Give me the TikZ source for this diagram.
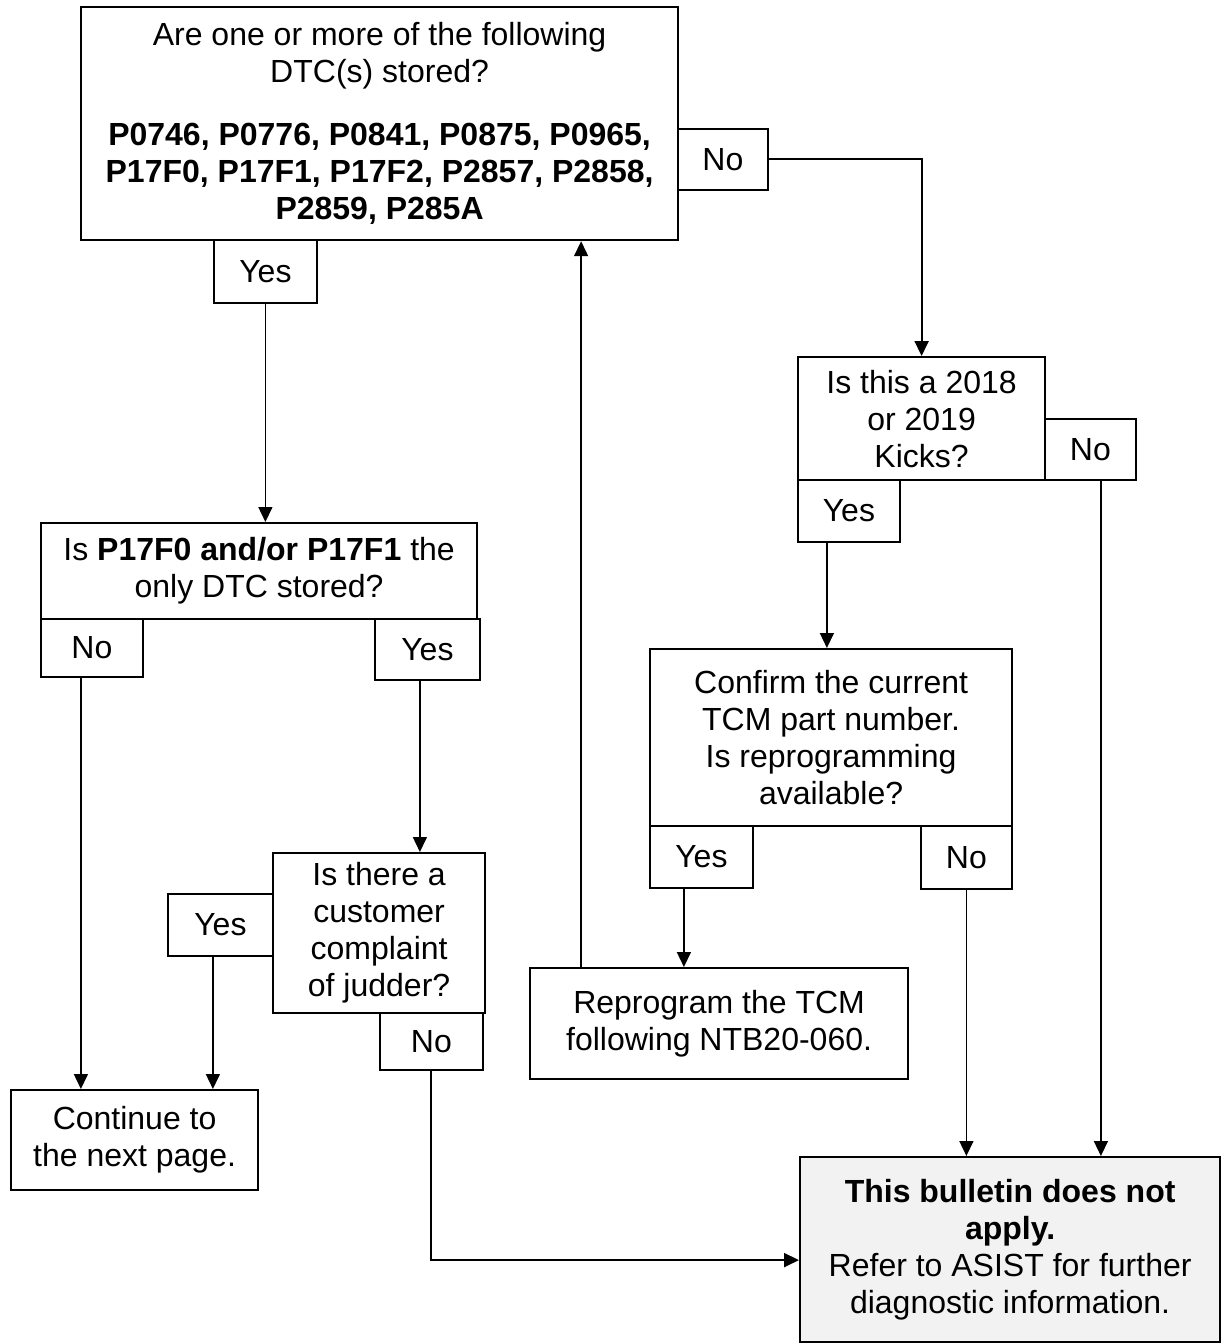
\documentclass[tikz,border=0pt]{standalone}
\usepackage{fontspec}
\setmainfont{Liberation Sans}
\usetikzlibrary{arrows.meta, positioning}
\definecolor{TSBgray}{HTML}{F2F2F2}

\tikzset{
   qbox/.style={draw, line width=2.2pt, inner sep=0pt, align=center,
      anchor=north west, font=\fontsize{32pt}{37pt}\selectfont},
   ansbox/.style={qbox, line width=1.8pt},
   flow/.style={-{Triangle[length=15pt, width=14pt]}, line width=1.5pt}
}

\begin{document}
\begin{tikzpicture}[x=1pt, y=-1pt]
            \useasboundingbox (0,0) rectangle (1221,1344);
            % Are DTCs stored?
            \node[qbox, minimum width=597pt, minimum height=233pt] (dtc) at (80,6)
               {Are one or more of the following\\DTC(s) stored?\\[26pt]
                \textbf{P0746, P0776, P0841, P0875, P0965,}\\
                \textbf{P17F0, P17F1, P17F2, P2857, P2858,}\\
                \textbf{P2859, P285A}};
            \node[ansbox, minimum width=90pt, minimum height=61pt] (dtcno) at (677,128) {No};
            \node[ansbox, minimum width=103pt, minimum height=63pt] (dtcyes) at (213,239) {Yes};
            % P17F0 / P17F1 only?
            \node[qbox, minimum width=436pt, minimum height=96pt] (only) at (40,522)
               {Is \textbf{P17F0 and/or P17F1} the\\only DTC stored?};
            \node[ansbox, minimum width=102pt, minimum height=58pt] (onlyno) at (40,618) {No};
            \node[ansbox, minimum width=105pt, minimum height=61pt] (onlyyes) at (374,618) {Yes};
            % Judder complaint?
            \node[qbox, minimum width=212pt, minimum height=160pt] (judder) at (272,852)
               {Is there a\\customer\\complaint\\of judder?};
            \node[ansbox, minimum width=105pt, minimum height=62pt] (judderyes) at (167,893) {Yes};
            \node[ansbox, minimum width=103pt, minimum height=57pt] (judderno) at (379,1012) {No};
            % Continue
            \node[qbox, minimum width=247pt, minimum height=100pt] (cont) at (10,1089)
               {Continue to\\the next page.};
            % Model year?
            \node[qbox, minimum width=247pt, minimum height=123pt] (kicks) at (797,356)
               {Is this a 2018\\or 2019\\Kicks?};
            \node[ansbox, minimum width=91pt, minimum height=61pt] (kicksno) at (1044,418) {No};
            \node[ansbox, minimum width=102pt, minimum height=62pt] (kicksyes) at (797,479) {Yes};
            % Part number check
            \node[qbox, minimum width=362pt, minimum height=177pt] (confirm) at (649,648)
               {Confirm the current\\TCM part number.\\Is reprogramming\\available?};
            \node[ansbox, minimum width=103pt, minimum height=62pt] (confyes) at (649,825) {Yes};
            \node[ansbox, minimum width=91pt, minimum height=63pt] (confno) at (920,825) {No};
            % Reprogram
            \node[qbox, minimum width=378pt, minimum height=111pt] (reprog) at (529,967)
               {Reprogram the TCM\\following NTB20-060.};
            % Does not apply
            \node[qbox, fill=TSBgray, minimum width=420pt, minimum height=185pt] (notapply) at (799,1156)
               {\textbf{This bulletin does not}\\\textbf{apply.}\\Refer to ASIST for further\\diagnostic information.};
            % Connector ends
            \coordinate (onlynoOut) at ([xshift=-11pt]onlyno.south);
            \coordinate (onlyyesOut) at ([xshift=-7.5pt]onlyyes.south);
            \coordinate (judderyesOut) at ([xshift=-7.5pt]judderyes.south);
            \coordinate (kicksyesOut) at ([xshift=-22pt]kicksyes.south);
            \coordinate (kicksnoOut) at ([xshift=10.5pt]kicksno.south);
            \coordinate (confyesOut) at ([xshift=-17.5pt]confyes.south);
            \coordinate (reprogOut) at ([xshift=-138pt]reprog.north);
            \coordinate (notapplyIn) at ([yshift=-10.5pt]notapply.west);
            % Connectors
            \draw[flow, line width=2pt] (dtcno.east) -| (kicks.north);
            \draw[flow] (dtcyes.south) -- (dtcyes.south |- only.north);
            \draw[flow] (onlynoOut) -- (onlynoOut |- cont.north);
            \draw[flow] (onlyyesOut) -- (onlyyesOut |- judder.north);
            \draw[flow] (judderyesOut) -- (judderyesOut |- cont.north);
            \draw[flow, line width=2pt] (judderno.south) |- (notapplyIn);
            \draw[flow] (kicksyesOut) -- (kicksyesOut |- confirm.north);
            \draw[flow] (kicksnoOut) -- (kicksnoOut |- notapply.north);
            \draw[flow] (confyesOut) -- (confyesOut |- reprog.north);
            \draw[flow] (confno.south) -- (confno.south |- notapply.north);
            \draw[flow] (reprogOut) -- (reprogOut |- dtc.south);
         \end{tikzpicture}
\end{document}
